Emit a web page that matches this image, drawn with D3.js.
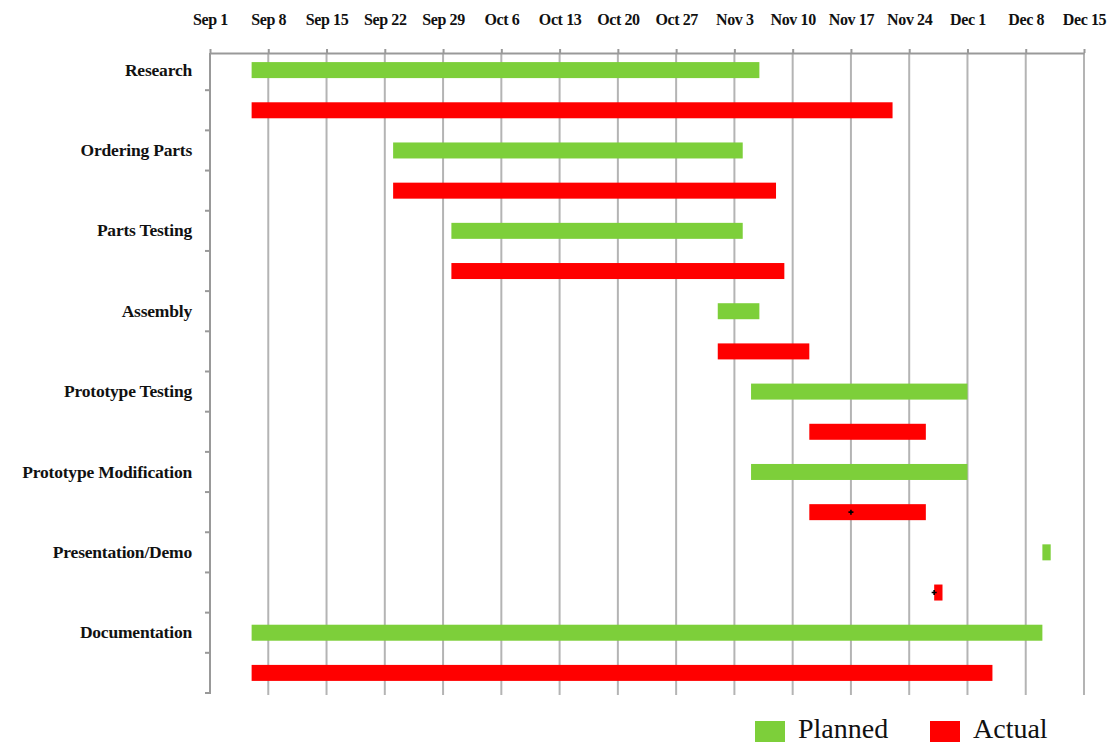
<!DOCTYPE html>
<html>
<head>
<meta charset="utf-8">
<script src="https://cdn.jsdelivr.net/npm/d3@7"></script>
<style>
  body { margin: 0; background: #fff; }
  svg text { font-family: "Liberation Serif", "DejaVu Serif", serif; }
</style>
</head>
<body>
<svg id="chart" width="1114" height="747"></svg>
<script>
// task data (dates as "Mon D", year fixed below)
const tasks = ['Research', 'Ordering Parts', 'Parts Testing', 'Assembly',
    'Prototype Testing', 'Prototype Modification', 'Presentation/Demo', 'Documentation'];
const plannedStart = ['Sep 6', 'Sep 23', 'Sep 30', 'Nov 1', 'Nov 5', 'Nov 5', 'Dec 10', 'Sep 6'];
const plannedEnd   = ['Nov 6', 'Nov 4', 'Nov 4', 'Nov 6', 'Dec 1', 'Dec 1', 'Dec 11', 'Dec 10'];
const actualStart  = ['Sep 6', 'Sep 23', 'Sep 30', 'Nov 1', 'Nov 12', 'Nov 12', 'Nov 27', 'Sep 6'];
const actualEnd    = ['Nov 22', 'Nov 8', 'Nov 9', 'Nov 12', 'Nov 26', 'Nov 26', 'Nov 28', 'Dec 4'];
const tickLabels = ['Sep 1', 'Sep 8', 'Sep 15', 'Sep 22', 'Sep 29', 'Oct 6', 'Oct 13', 'Oct 20',
    'Oct 27', 'Nov 3', 'Nov 10', 'Nov 17', 'Nov 24', 'Dec 1', 'Dec 8', 'Dec 15'];
// little black marks sitting on two of the actual bars
const markerTasks = ['Prototype Modification', 'Presentation/Demo'];
const markerDates = ['Nov 17', 'Nov 27'];
const seriesNames = ['Planned', 'Actual'];
const seriesColors = ['#7dcf3a', '#ff0000'];

const parse = s => d3.utcParse('%b %d %Y')(s + ' 2014');

const svg = d3.select('#chart');
const mLeft = 210, mRight = 1084, mTop = 53, mBottom = 693;

const x = d3.scaleUtc()
    .domain([parse(tickLabels[0]), parse(tickLabels[tickLabels.length - 1])])
    .range([mLeft, mRight]);

const rows = tasks.flatMap(t => seriesNames.map(s => t + '|' + s));
const y = d3.scaleBand().domain(rows).range([mTop - 3, mBottom]);

// vertical grid
svg.append('g')
    .selectAll('line')
    .data(tickLabels.slice(1))
    .join('line')
    .attr('x1', d => x(parse(d)))
    .attr('x2', d => x(parse(d)))
    .attr('y1', mTop)
    .attr('y2', mBottom + 2)
    .attr('stroke', '#b4b4b4')
    .attr('stroke-width', 2);

// top axis
const xAxis = svg.append('g')
    .attr('transform', `translate(0,${mTop})`)
    .call(d3.axisTop(x)
        .tickValues(tickLabels.map(parse))
        .tickFormat(d3.utcFormat('%b %-d'))
        .tickSize(4)
        .tickSizeOuter(0));
xAxis.select('.domain').attr('stroke', '#999').attr('stroke-width', 2);
xAxis.selectAll('.tick line').attr('stroke', '#999').attr('stroke-width', 2);
xAxis.selectAll('.tick text')
    .attr('y', -28)
    .attr('font-size', 16)
    .attr('letter-spacing', -0.4)
    .attr('font-weight', 'bold')
    .attr('fill', '#111');

// left axis
svg.append('line')
    .attr('x1', mLeft).attr('x2', mLeft)
    .attr('y1', mTop).attr('y2', mBottom + 1)
    .attr('stroke', '#999').attr('stroke-width', 2);
svg.append('g')
    .selectAll('line')
    .data(rows.slice(1).concat(['end']))
    .join('line')
    .attr('x1', mLeft - 5).attr('x2', mLeft)
    .attr('y1', d => d === 'end' ? mBottom : y(d))
    .attr('y2', d => d === 'end' ? mBottom : y(d))
    .attr('stroke', '#999').attr('stroke-width', 2);

// task labels
svg.append('g')
    .selectAll('text')
    .data(tasks)
    .join('text')
    .attr('x', 192)
    .attr('y', d => y(d + '|Planned') + y.bandwidth() / 2)
    .attr('dy', '0.32em')
    .attr('text-anchor', 'end')
    .attr('font-size', 17.5)
    .attr('letter-spacing', -0.2)
    .attr('font-weight', 'bold')
    .attr('fill', '#111')
    .text(d => d);

// bars
const bars = tasks.flatMap((t, i) => [
    { task: t, series: 'Planned', start: parse(plannedStart[i]), end: parse(plannedEnd[i]) },
    { task: t, series: 'Actual', start: parse(actualStart[i]), end: parse(actualEnd[i]) }
]);
const barH = 16;
svg.append('g')
    .selectAll('rect')
    .data(bars)
    .join('rect')
    .attr('x', d => x(d.start))
    .attr('width', d => x(d.end) - x(d.start))
    .attr('y', d => y(d.task + '|' + d.series) + y.bandwidth() / 2 - barH / 2)
    .attr('height', barH)
    .attr('fill', d => seriesColors[seriesNames.indexOf(d.series)]);

// markers
svg.append('g')
    .selectAll('path')
    .data(markerTasks.map((t, i) => ({ task: t, date: parse(markerDates[i]) })))
    .join('path')
    .attr('d', d3.symbol(d3.symbolCross, 14))
    .attr('transform', d => `translate(${x(d.date)},${y(d.task + '|Actual') + y.bandwidth() / 2})`)
    .attr('fill', '#000');

// legend
const legend = svg.append('g')
    .selectAll('g')
    .data(seriesNames)
    .join('g')
    .attr('transform', (d, i) => `translate(${[755, 930][i]},721)`);
legend.append('rect')
    .attr('width', 30).attr('height', 21)
    .attr('fill', (d, i) => seriesColors[i]);
legend.append('text')
    .attr('x', 43)
    .attr('y', 17)
    .attr('font-size', 28)
    .attr('fill', '#111')
    .text(d => d);
</script>
</body>
</html>
